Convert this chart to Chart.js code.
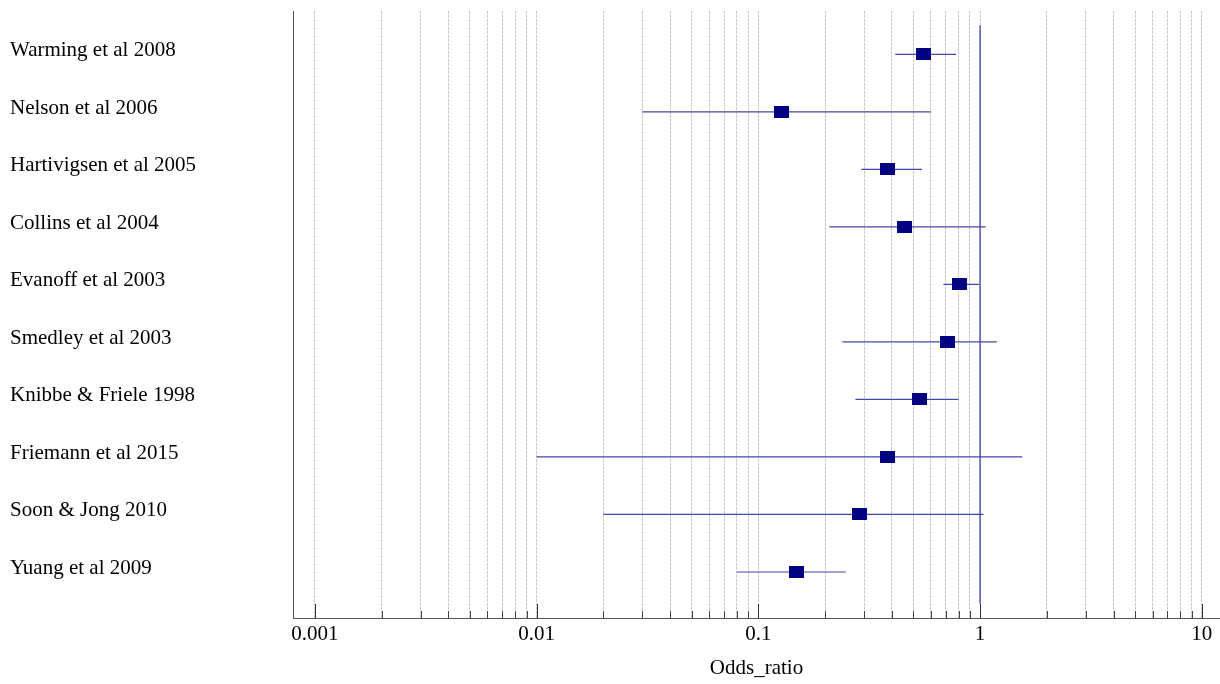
<!DOCTYPE html>
<html><head><meta charset="utf-8">
<script src="https://cdn.jsdelivr.net/npm/chart.js@4.4.0/dist/chart.umd.min.js"></script>
<style>html,body{margin:0;padding:0;background:#fff;}#wrap{width:1220px;height:684px;position:relative;}</style>
</head><body><div id="wrap"><canvas id="c" width="1220" height="684"></canvas></div>
<script>
// ---- data ----
const studies = ['Warming et al 2008','Nelson et al 2006','Hartivigsen et al 2005','Collins et al 2004','Evanoff et al 2003','Smedley et al 2003','Knibbe & Friele 1998','Friemann et al 2015','Soon & Jong 2010','Yuang et al 2009'];
const oddsRatio = [0.555,0.127,0.382,0.456,0.807,0.711,0.535,0.384,0.287,0.148];
const ciLower   = [0.414,0.030,0.291,0.209,0.683,0.239,0.274,0.010,0.020,0.080];
const ciUpper   = [0.780,0.600,0.547,1.060,0.990,1.190,0.800,1.550,1.035,0.248];
const nullValue = 1;
const xTickValues = [0.001,0.01,0.1,1,10];
const xTickLabels = ['0.001','0.01','0.1','1','10'];
const xTitle = 'Odds_ratio';

// ---- derived ----
const gridValues = [];
xTickValues.forEach((d, j) => {
  gridValues.push(d);
  if (j < xTickValues.length - 1) for (let k = 2; k <= 9; k++) gridValues.push(parseFloat((k * d).toPrecision(12)));
});
const ciData = [];
studies.forEach((s, i) => { ciData.push({x: ciLower[i], y: i}, {x: ciUpper[i], y: i}, {x: ciUpper[i], y: null}); });
const pointData = studies.map((s, i) => ({x: oddsRatio[i], y: i}));
const nullData = [{x: nullValue, y: -0.5}, {x: nullValue, y: studies.length - 0.45}];

const sq = document.createElement('canvas');
sq.width = 15; sq.height = 12;
const sctx = sq.getContext('2d'); sctx.fillStyle = '#000080'; sctx.fillRect(0, 0, 15, 12);

const FONT = "'Liberation Serif','Times New Roman',serif";
Chart.defaults.font.family = FONT;
Chart.defaults.color = '#000';

const rowMin = -0.753, rowMax = studies.length - 0.2, labelShift = 0.061;

const tickMarks = {
  id: 'tickMarks',
  afterDraw(chart) {
    const xs = chart.scales.x, b = chart.chartArea.bottom, ctx = chart.ctx;
    ctx.save();
    ctx.lineWidth = 1;
    xs.ticks.forEach(t => {
      const px = Math.round(xs.getPixelForValue(t.value)) + 0.5;
      const major = xTickValues.includes(t.value);
      ctx.strokeStyle = major ? '#333' : '#444';
      ctx.beginPath(); ctx.moveTo(px, b - (major ? 14 : 7)); ctx.lineTo(px, b); ctx.stroke();
    });
    ctx.restore();
  }
};

new Chart(document.getElementById('c'), {
  type: 'scatter',
  data: {
    datasets: [
      {type: 'scatter', data: pointData, pointStyle: sq, pointRadius: 6, pointHoverRadius: 6, order: 0},
      {type: 'line', data: ciData, borderColor: '#4646ac', borderWidth: 1.2, pointRadius: 0, spanGaps: false, order: 1},
      {type: 'line', data: nullData, borderColor: '#6a6ab2', borderWidth: 1, pointRadius: 0, order: 2}
    ]
  },
  options: {
    responsive: false, animation: false, devicePixelRatio: 1,
    layout: {autoPadding: false, padding: {left: 10, top: 11, right: 0, bottom: 0}},
    plugins: {legend: {display: false}, tooltip: {enabled: false}},
    scales: {
      x: {
        type: 'logarithmic', min: 0.000796, max: 12.08,
        afterBuildTicks: s => { s.ticks = gridValues.map(v => ({value: v, major: xTickValues.includes(v)})); },
        afterFit: s => { s.height = 66; s.paddingLeft = 0; s.paddingRight = 0; },
        ticks: {
          autoSkip: false, maxRotation: 0, padding: 4,
          font: {size: 21, family: FONT}, color: '#000',
          callback: v => { const k = xTickValues.indexOf(v); return k >= 0 ? xTickLabels[k] : ''; }
        },
        grid: {color: '#c6c6c6', lineWidth: 1, drawTicks: false},
        border: {display: true, color: '#555', width: 1, dash: [3, 1]},
        title: {display: true, text: xTitle, font: {size: 21, family: FONT}, color: '#000', padding: {top: 4, bottom: 3}}
      },
      y: {
        type: 'linear', reverse: true, min: rowMin, max: rowMax, display: false
      },
      yl: {
        type: 'linear', position: 'left', reverse: true, min: rowMin + labelShift, max: rowMax + labelShift,
        afterBuildTicks: s => { s.ticks = studies.map((n, i) => ({value: i})); },
        afterFit: s => { s.width = 283; s.paddingTop = 0; s.paddingBottom = 0; },
        ticks: {
          autoSkip: false, crossAlign: 'far', padding: 0,
          font: {size: 21, family: FONT}, color: '#000',
          callback: v => studies[v]
        },
        grid: {display: false, drawOnChartArea: false, drawTicks: false},
        border: {display: true, color: '#555', width: 1}
      }
    }
  },
  plugins: [tickMarks]
});
</script></body></html>
